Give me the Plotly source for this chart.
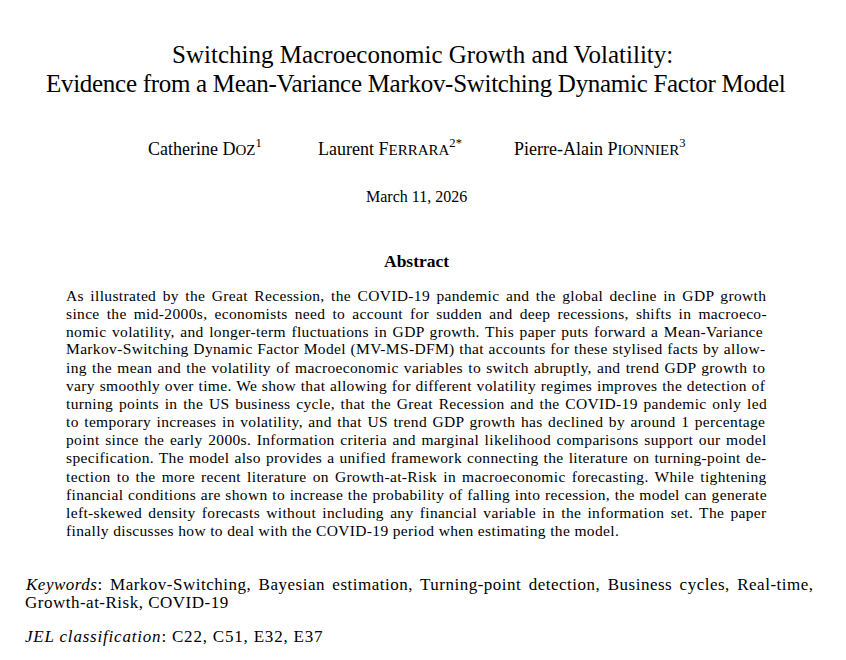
import plotly.graph_objects as go

# Title page text, one list entry per printed line
title_lines = [
    "Switching Macroeconomic Growth and Volatility:",
    "Evidence from a Mean-Variance Markov-Switching Dynamic Factor Model",
]

# Authors: (first name, surname initial, rest of surname in small caps, affiliation mark)
authors = [
    ("Catherine", "D", "OZ", "1"),
    ("Laurent", "F", "ERRARA", "2*"),
    ("Pierre-Alain", "P", "IONNIER", "3"),
]

date_text = "March 11, 2026"
abstract_heading = "Abstract"

abstract_lines = [
    "As illustrated by the Great Recession, the COVID-19 pandemic and the global decline in GDP growth",
    "since the mid-2000s, economists need to account for sudden and deep recessions, shifts in macroeco-",
    "nomic volatility, and longer-term fluctuations in GDP growth. This paper puts forward a Mean-Variance",
    "Markov-Switching Dynamic Factor Model (MV-MS-DFM) that accounts for these stylised facts by allow-",
    "ing the mean and the volatility of macroeconomic variables to switch abruptly, and trend GDP growth to",
    "vary smoothly over time. We show that allowing for different volatility regimes improves the detection of",
    "turning points in the US business cycle, that the Great Recession and the COVID-19 pandemic only led",
    "to temporary increases in volatility, and that US trend GDP growth has declined by around 1 percentage",
    "point since the early 2000s. Information criteria and marginal likelihood comparisons support our model",
    "specification. The model also provides a unified framework connecting the literature on turning-point de-",
    "tection to the more recent literature on Growth-at-Risk in macroeconomic forecasting. While tightening",
    "financial conditions are shown to increase the probability of falling into recession, the model can generate",
    "left-skewed density forecasts without including any financial variable in the information set. The paper",
    "finally discusses how to deal with the COVID-19 period when estimating the model.",
]

keywords_label = "Keywords"
keywords = [
    "Markov-Switching, Bayesian estimation, Turning-point detection, Business cycles, Real-time,",
    "Growth-at-Risk, COVID-19",
]
jel_label = "JEL classification"
jel_codes = ["C22", "C51", "E32", "E37"]

serif = "Liberation Serif"
ink = "#000000"
OX, OY = -8, -8  # the page body margin moves the figure by 8px

# Liberation Serif shares Times metrics (1/1000 em), used to justify lines
W = {" ": 250, ",": 250, ".": 250, "-": 333, "(": 333, ")": 333, ":": 278, "*": 500}
W.update({d: 500 for d in "0123456789"})
W.update(dict(zip("ABCDEFGHIJKLMNOPQRSTUVWXYZ",
                  [722, 667, 667, 722, 611, 556, 722, 722, 333, 389, 722, 611, 889,
                   722, 722, 556, 722, 667, 556, 611, 722, 722, 944, 722, 722, 611])))
W.update(dict(zip("abcdefghijklmnopqrstuvwxyz",
                  [444, 500, 444, 500, 444, 333, 500, 500, 278, 278, 500, 278, 778,
                   500, 500, 500, 500, 333, 389, 278, 500, 500, 722, 500, 500, 444])))


def text_width(s, size, ls=0.0):
    return sum(W.get(c, 500) for c in s) * size / 1000 + ls * len(s)


def justify(s, size, ls, target):
    gap = (target - text_width(s, size, ls)) / max(s.count(" "), 1)
    return "<span style='letter-spacing:%.2fpx;word-spacing:%.2fpx'>%s</span>" % (ls, gap, s)


def fit(s, size, target):
    ls = (target - text_width(s, size)) / len(s)
    return "<span style='letter-spacing:%.2fpx'>%s</span>" % (ls, s)


annotations = []


def add_text(x, y, text, size, anchor="center"):
    annotations.append(dict(
        x=x + OX, y=y + OY, text=text, showarrow=False, xanchor=anchor, yanchor="middle",
        font=dict(family=serif, size=size, color=ink),
    ))


# title
add_text(422, 54, fit(title_lines[0], 25, 505), 25)
add_text(416, 83, fit(title_lines[1], 25, 742), 25)

# authors with small caps surnames
for (first, init, rest, mark), x in zip(authors, [205, 390, 599]):
    txt = (first + " " + init + "<span style='font-size:15px'>" + rest + "</span>"
           + "<sup>" + mark + "</sup>")
    add_text(x, 147, txt, 18)

add_text(416, 196, date_text, 16)
add_text(416, 261, "<b>" + abstract_heading + "</b>", 17.5)

# abstract body, justified except the last line
for i, line in enumerate(abstract_lines):
    if i < len(abstract_lines) - 1:
        txt = justify(line, 15.5, 0.35, 701)
    else:
        txt = "<span style='letter-spacing:0.35px'>%s</span>" % line
    add_text(64, 295 + i * 18.1, txt, 15.5, anchor="left")

# keywords and JEL codes
kw_first = keywords_label + ": " + keywords[0]
gap = (791 - text_width(kw_first, 17, 0.5)) / kw_first.count(" ")
add_text(23, 584, "<span style='letter-spacing:0.5px;word-spacing:%.2fpx'><i>%s</i>: %s</span>"
         % (gap, keywords_label, keywords[0]), 17, anchor="left")
add_text(23, 602, "<span style='letter-spacing:0.5px'>%s</span>" % keywords[1], 17, anchor="left")
add_text(23, 636, "<span style='letter-spacing:0.8px'><i>%s</i>: %s</span>"
         % (jel_label, ", ".join(jel_codes)), 17, anchor="left")

fig = go.Figure()
fig.update_layout(
    width=846, height=660,
    margin=dict(l=0, r=0, t=0, b=0),
    paper_bgcolor="white", plot_bgcolor="white",
    xaxis=dict(range=[0, 846], visible=False, fixedrange=True),
    yaxis=dict(range=[660, 0], visible=False, fixedrange=True),
    annotations=annotations,
    showlegend=False,
)

fig.write_html("out.html")
